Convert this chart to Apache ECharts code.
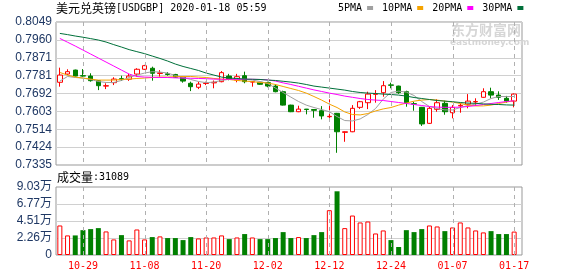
<!DOCTYPE html>
<html><head><meta charset="utf-8">
<script src="https://cdn.jsdelivr.net/npm/echarts@6/dist/echarts.min.js"></script>
<style>html,body{margin:0;padding:0;background:#fff}#c{width:578px;height:276px}</style>
</head><body><div id="c"></div>
<script>
// ---- data ----
const dates = ['10-24','10-25','10-28','10-29','10-30','10-31','11-01','11-04','11-05','11-06','11-07','11-08',
  '11-11','11-12','11-13','11-14','11-15','11-18','11-19','11-20',
  '11-21','11-22','11-25','11-26','11-27','11-28','11-29','12-02',
  '12-03','12-04','12-05','12-06','12-09','12-10','12-11','12-12',
  '12-13','12-16','12-17','12-18','12-19','12-20','12-23','12-24',
  '12-26','12-27','12-30','12-31','01-02','01-03','01-06','01-07',
  '01-08','01-09','01-10','01-13','01-14','01-15','01-16','01-17'];
const xTickLabels = ['10-29','11-08','11-20','12-02','12-12','12-24','01-07','01-17'];
const openP  = [0.7748,0.7789,0.7809,0.7781,0.7779,0.7756,0.7729,0.7746,0.7766,0.7763,
  0.7789,0.7813,0.7818,0.7792,0.7790,0.7787,0.7773,0.7743,0.7723,0.7742,
  0.7745,0.7751,0.7779,0.7759,0.7781,0.7749,0.7748,0.7746,0.7729,0.7701,
  0.7634,0.7601,0.7614,0.7612,0.7606,0.7576,0.7593,0.7498,0.7501,0.7623,
  0.7646,0.7688,0.7696,0.7735,0.7729,0.7701,0.7641,0.7623,0.7543,0.7613,
  0.7643,0.7596,0.7630,0.7638,0.7650,0.7673,0.7701,0.7684,0.7668,0.7654];
const closeP = [0.7784,0.7801,0.7779,0.7779,0.7756,0.7731,0.7731,0.7764,0.7763,0.7779,
  0.7813,0.7831,0.7793,0.7795,0.7787,0.7773,0.7754,0.7726,0.7739,0.7744,
  0.7748,0.7796,0.7763,0.7776,0.7751,0.7751,0.7738,0.7729,0.7701,0.7634,
  0.7601,0.7614,0.7612,0.7608,0.7580,0.7578,0.7501,0.7501,0.7618,0.7651,
  0.7689,0.7690,0.7731,0.7733,0.7696,0.7646,0.7639,0.7540,0.7618,0.7646,
  0.7601,0.7623,0.7633,0.7654,0.7652,0.7701,0.7684,0.7673,0.7654,0.7689];
const highP  = [0.7821,0.7813,0.7811,0.7814,0.7793,0.7758,0.7743,0.7773,0.7781,0.7790,
  0.7818,0.7835,0.7826,0.7809,0.7799,0.7790,0.7776,0.7751,0.7751,0.7751,
  0.7757,0.7804,0.7790,0.7790,0.7801,0.7753,0.7751,0.7751,0.7738,0.7706,
  0.7636,0.7631,0.7615,0.7613,0.7629,0.7663,0.7595,0.7503,0.7634,0.7655,
  0.7701,0.7709,0.7754,0.7746,0.7731,0.7706,0.7651,0.7625,0.7625,0.7663,
  0.7656,0.7634,0.7644,0.7689,0.7668,0.7718,0.7721,0.7703,0.7680,0.7692];
const lowP   = [0.7726,0.7784,0.7777,0.7776,0.7751,0.7709,0.7714,0.7734,0.7755,0.7755,
  0.7776,0.7810,0.7756,0.7776,0.7781,0.7770,0.7746,0.7704,0.7714,0.7734,
  0.7718,0.7748,0.7758,0.7748,0.7743,0.7726,0.7735,0.7723,0.7698,0.7632,
  0.7599,0.7599,0.7588,0.7571,0.7563,0.7560,0.7396,0.7451,0.7499,0.7615,
  0.7614,0.7646,0.7676,0.7718,0.7690,0.7626,0.7606,0.7530,0.7540,0.7601,
  0.7586,0.7568,0.7596,0.7618,0.7630,0.7671,0.7668,0.7660,0.7646,0.7623];
const volumes = [39200,26000,26000,33000,34400,35700,31300,20700,26400,19400,
  33900,20700,23800,24700,22500,22500,19800,23800,22000,23300,
  23300,26000,21100,23300,27800,23300,21100,21100,22500,30400,
  22500,23800,22500,26400,30400,59500,84600,35700,52400,43200,
  44500,28600,32600,19800,10600,33000,30400,34400,39200,37900,
  31700,36600,43200,36600,32600,30000,31700,27800,27800,31089];
const ma5  = [0.7754,0.7777,0.7772,0.7769,0.7762,0.7752,0.7747,0.7747,0.7757,0.7772,
  0.7784,0.7794,0.7801,0.7799,0.7794,0.7782,0.7772,0.7762,0.7752,0.7746,
  0.7749,0.7757,0.7763,0.7763,0.7763,0.7759,0.7752,0.7742,0.7719,0.7697,
  0.7674,0.7652,0.7634,0.7622,0.7612,0.7601,0.7577,0.7557,0.7555,0.7565,
  0.7587,0.7617,0.7664,0.7697,0.7704,0.7699,0.7682,0.7652,0.7627,0.7617,
  0.7610,0.7610,0.7622,0.7632,0.7639,0.7649,0.7667,0.7677,0.7677,0.7677];
const ma10 = [0.7797,0.7784,0.7774,0.7769,0.7764,0.7759,0.7759,0.7759,0.7762,0.7764,
  0.7767,0.7769,0.7772,0.7774,0.7774,0.7776,0.7777,0.7777,0.7774,0.7772,
  0.7767,0.7764,0.7762,0.7757,0.7754,0.7751,0.7747,0.7744,0.7737,0.7727,
  0.7717,0.7707,0.7694,0.7677,0.7659,0.7639,0.7622,0.7600,0.7587,0.7585,
  0.7592,0.7605,0.7615,0.7622,0.7634,0.7644,0.7654,0.7659,0.7662,0.7659,
  0.7654,0.7649,0.7642,0.7634,0.7630,0.7630,0.7634,0.7642,0.7649,0.7657];
const ma20 = [0.7967,0.7948,0.7929,0.7909,0.7889,0.7869,0.7849,0.7829,0.7809,0.7789,
  0.7777,0.7774,0.7773,0.7772,0.7772,0.7770,0.7769,0.7768,0.7767,0.7766,
  0.7764,0.7763,0.7763,0.7763,0.7763,0.7763,0.7762,0.7760,0.7754,0.7745,
  0.7737,0.7728,0.7719,0.7710,0.7702,0.7694,0.7687,0.7679,0.7673,0.7667,
  0.7662,0.7659,0.7657,0.7652,0.7647,0.7642,0.7637,0.7632,0.7627,0.7624,
  0.7623,0.7623,0.7624,0.7627,0.7632,0.7637,0.7642,0.7647,0.7652,0.7656];
const ma30 = [0.7992,0.7986,0.7979,0.7973,0.7966,0.7959,0.7949,0.7936,0.7924,0.7911,
  0.7901,0.7891,0.7879,0.7867,0.7854,0.7839,0.7827,0.7817,0.7807,0.7794,
  0.7784,0.7774,0.7769,0.7767,0.7764,0.7763,0.7762,0.7759,0.7757,0.7753,
  0.7749,0.7744,0.7737,0.7729,0.7724,0.7719,0.7714,0.7709,0.7702,0.7697,
  0.7694,0.7692,0.7689,0.7687,0.7684,0.7679,0.7672,0.7667,0.7662,0.7657,
  0.7654,0.7651,0.7647,0.7644,0.7643,0.7640,0.7638,0.7637,0.7635,0.7634];
const priceTickLabels = ['0.7335','0.7424','0.7514','0.7603','0.7692','0.7781','0.7871','0.7960','0.8049'];
const volTickLabels = ['0','2.26万','4.51万','6.77万','9.03万'];
const legendNames = ['5PMA','10PMA','20PMA','30PMA'];
const titleName = '美元兑英镑';
const titleCode = '[USDGBP] 2020-01-18 05:59';
const volTitle = '成交量';

// ---- chart ----
const PMIN = 0.7335, PMAX = 0.8049, PINT = (PMAX - PMIN) / 8;
const VMIN = 0, VMAX = 90300, VINT = 22575;
const UP = '#ff0000', DOWN = '#008000';
const MONO = 'DejaVu Sans Mono', CJK = 'Noto Sans CJK SC';

const candleData = dates.map((d, i) => [openP[i], closeP[i], lowP[i], highP[i]]);
const volData = volumes.map((v, i) => {
  const up = closeP[i] >= openP[i];
  return { value: v, itemStyle: up ? { color: '#fff', borderColor: UP, borderWidth: 1 } : { color: DOWN } };
});
const tickIdx = xTickLabels.map(l => dates.indexOf(l));
const midP = (PMIN + PMAX) / 2, midV = (VMIN + VMAX) / 2;

const mainBox = { left: 56, top: 22, height: 143 };
const volBox = { left: 56, top: 187, height: 68 };
const dataW = 462, frameW = 466;

function vLine(params, api) {
  const x = Math.round(api.coord([api.value(0), api.value(1)])[0]) + 0.5;
  const cs = params.coordSys;
  return { type: 'line',
    shape: { x1: x, y1: cs.y, x2: x, y2: cs.y + cs.height },
    style: { stroke: '#b0b0b0', lineWidth: 1, lineDash: [4, 4] } };
}

const chart = echarts.init(document.getElementById('c'));
chart.setOption({
  animation: false,
  backgroundColor: '#fff',
  title: {
    left: 56, top: 2, padding: 0,
    text: '{a|' + titleName + '}{b|' + titleCode + '}',
    textStyle: { fontWeight: 'normal', rich: {
      a: { fontFamily: CJK, fontSize: 12, fontWeight: 'normal', color: '#000' },
      b: { fontFamily: MONO, fontSize: 10, fontWeight: 'normal', color: '#000' }
    } }
  },
  legend: {
    left: 338, top: 3, padding: 0, itemWidth: 6, itemHeight: 4, itemGap: 9,
    align: 'right', icon: 'rect', selectedMode: false,
    textStyle: { fontFamily: MONO, fontSize: 10, color: '#000' },
    data: legendNames
  },
  grid: [
    { left: mainBox.left, top: mainBox.top, width: dataW, height: mainBox.height },
    { left: volBox.left, top: volBox.top, width: dataW, height: volBox.height },
    { left: mainBox.left, top: mainBox.top, width: frameW, height: mainBox.height, show: true, backgroundColor: 'transparent', borderColor: '#999', borderWidth: 1 },
    { left: volBox.left, top: volBox.top, width: frameW, height: volBox.height, show: true, backgroundColor: 'transparent', borderColor: '#999', borderWidth: 1 }
  ],
  xAxis: [
    { type: 'category', gridIndex: 0, data: dates, boundaryGap: true,
      axisLine: { show: false }, axisTick: { show: false }, axisLabel: { show: false }, splitLine: { show: false } },
    { type: 'category', gridIndex: 1, data: dates, boundaryGap: true,
      axisLine: { show: false }, axisTick: { show: false },
      axisLabel: { show: true, interval: (idx, val) => xTickLabels.indexOf(val) >= 0, color: '#ff0000',
        fontFamily: MONO, fontSize: 10, margin: 6 },
      splitLine: { show: false } },
    { type: 'value', gridIndex: 2, show: false, min: 0, max: 1 },
    { type: 'value', gridIndex: 3, show: false, min: 0, max: 1 }
  ],
  yAxis: [
    { type: 'value', gridIndex: 0, min: PMIN, max: PMAX, show: false, splitLine: { show: false } },
    { type: 'value', gridIndex: 1, min: VMIN, max: VMAX, show: false, splitLine: { show: false } },
    { type: 'value', gridIndex: 2, min: PMIN, max: PMAX, interval: PINT,
      axisLine: { show: false }, axisTick: { show: false },
      axisLabel: { color: '#1f3864', fontFamily: 'Liberation Sans', fontSize: 12, margin: 4,
        showMinLabel: true, showMaxLabel: true,
        formatter: v => priceTickLabels[Math.round((v - PMIN) / PINT)] || '' },
      splitLine: { show: true, showMinLine: false, showMaxLine: false, lineStyle: { color: '#d0d0d0', width: 1 } } },
    { type: 'value', gridIndex: 3, min: VMIN, max: VMAX, interval: VINT,
      axisLine: { show: false }, axisTick: { show: false },
      axisLabel: { color: '#1f3864', fontFamily: 'Liberation Sans, ' + CJK, fontSize: 12, margin: 4,
        showMinLabel: true, showMaxLabel: true,
        formatter: v => volTickLabels[Math.round((v - VMIN) / VINT)] || '' },
      splitLine: { show: true, showMinLine: false, showMaxLine: false, lineStyle: { color: '#d0d0d0', width: 1 } } }
  ],
  graphic: [
    { type: 'text', left: 57, top: 171, style: {
        text: '{a|' + volTitle + '}{b|:' + volumes[volumes.length - 1] + '}',
        rich: { a: { fontFamily: CJK, fontSize: 12, fill: '#000' }, b: { fontFamily: MONO, fontSize: 10, fill: '#000' } } } },
    { type: 'text', left: 451, top: 23, style: { text: '东方财富网', font: 'bold 14px "Noto Sans CJK SC"', fill: '#d6d6d6' } },
    { type: 'text', left: 450, top: 38, style: { text: 'eastmoney.com', font: 'bold 9px "DejaVu Sans"', fill: '#d6d6d6' } }
  ],
  series: [
    { type: 'candlestick', name: 'K', xAxisIndex: 0, yAxisIndex: 0, data: candleData, barWidth: 5,
      itemStyle: { color: '#ffffff', color0: DOWN, borderColor: UP, borderColor0: DOWN, borderWidth: 1 } },
    { type: 'line', name: legendNames[0], xAxisIndex: 0, yAxisIndex: 0, data: ma5, symbol: 'none',
      lineStyle: { width: 1, color: '#a0a0a0' }, itemStyle: { color: '#a0a0a0' } },
    { type: 'line', name: legendNames[1], xAxisIndex: 0, yAxisIndex: 0, data: ma10, symbol: 'none',
      lineStyle: { width: 1, color: '#f5a300' }, itemStyle: { color: '#f5a300' } },
    { type: 'line', name: legendNames[2], xAxisIndex: 0, yAxisIndex: 0, data: ma20, symbol: 'none',
      lineStyle: { width: 1, color: '#ff00ff' }, itemStyle: { color: '#ff00ff' } },
    { type: 'line', name: legendNames[3], xAxisIndex: 0, yAxisIndex: 0, data: ma30, symbol: 'none',
      lineStyle: { width: 1, color: '#00703a' }, itemStyle: { color: '#00703a' } },
    { type: 'bar', name: 'VOL', xAxisIndex: 1, yAxisIndex: 1, data: volData, barWidth: 5 },
    { type: 'custom', name: 'gridMain', xAxisIndex: 0, yAxisIndex: 0, z: 10,
      renderItem: vLine, encode: { x: 0, y: 1 }, data: tickIdx.map(i => [i, midP]) },
    { type: 'custom', name: 'gridVol', xAxisIndex: 1, yAxisIndex: 1, z: 10,
      renderItem: vLine, encode: { x: 0, y: 1 }, data: tickIdx.map(i => [i, midV]) }
  ]
});
</script></body></html>
